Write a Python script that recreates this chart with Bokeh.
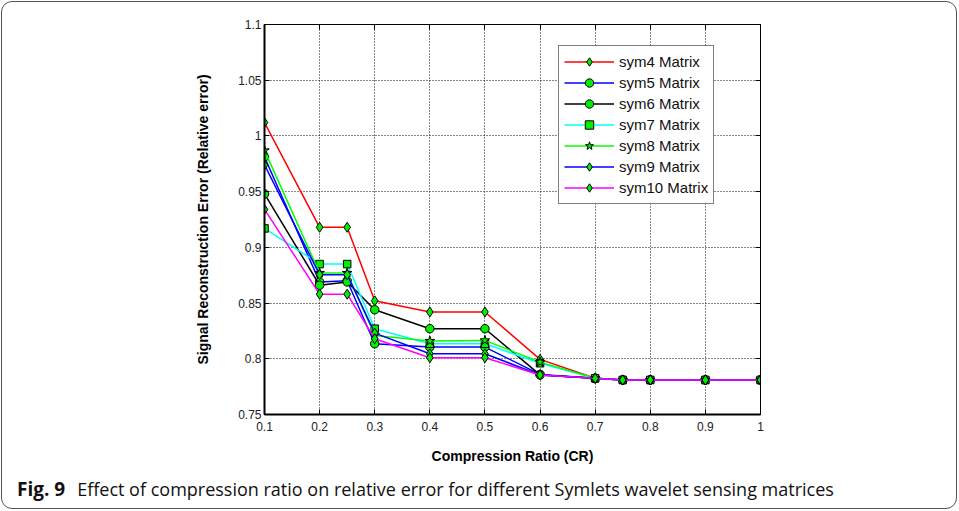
from bokeh.plotting import figure
from bokeh.models import (Range1d, FixedTicker, CustomJSTickFormatter, LinearAxis,
                          Legend, LegendItem, Div)
from bokeh.layouts import column
from bokeh.embed import file_html
from bokeh.resources import INLINE

cr = [0.1, 0.2, 0.25, 0.3, 0.4, 0.5, 0.6, 0.7, 0.75, 0.8, 0.9, 1.0]
sym4 = [1.012, 0.918, 0.918, 0.852, 0.842, 0.842, 0.7995, 0.7825, 0.781, 0.781, 0.781, 0.781]
sym5 = [0.981, 0.869, 0.870, 0.8135, 0.8105, 0.8105, 0.786, 0.7825, 0.781, 0.781, 0.781, 0.781]
sym6 = [0.948, 0.866, 0.869, 0.844, 0.827, 0.827, 0.7855, 0.7825, 0.781, 0.781, 0.781, 0.781]
sym7 = [0.917, 0.885, 0.885, 0.827, 0.8135, 0.8135, 0.796, 0.7825, 0.781, 0.781, 0.781, 0.781]
sym8 = [0.987, 0.877, 0.877, 0.821, 0.816, 0.8165, 0.797, 0.7825, 0.781, 0.781, 0.781, 0.781]
sym9 = [0.974, 0.8755, 0.8755, 0.823, 0.8045, 0.8045, 0.7855, 0.7825, 0.781, 0.781, 0.781, 0.781]
sym10 = [0.934, 0.858, 0.858, 0.818, 0.801, 0.801, 0.7855, 0.7825, 0.781, 0.781, 0.781, 0.781]

series_names = ["sym4 Matrix", "sym5 Matrix", "sym6 Matrix", "sym7 Matrix",
                "sym8 Matrix", "sym9 Matrix", "sym10 Matrix"]
series_values = [sym4, sym5, sym6, sym7, sym8, sym9, sym10]
line_colors = ["#ff0000", "#0000ff", "#000000", "#00ffff", "#00ff00", "#0000ff", "#ff00ff"]
markers = ["diamond", "circle", "circle", "square", "star", "diamond", "diamond"]
marker_sizes = [10, 8.5, 8.5, 7.5, 10, 10, 10]

x_ticks = [0.1, 0.2, 0.3, 0.4, 0.5, 0.6, 0.7, 0.8, 0.9, 1.0]
y_ticks = [0.75, 0.8, 0.85, 0.9, 0.95, 1.0, 1.05, 1.1]

caption_bold = "Fig. 9"
caption_text = "Effect of compression ratio on relative error for different Symlets wavelet sensing matrices"

FONT = "Liberation Sans"

p = figure(width=958, height=472, output_backend="svg", toolbar_location=None,
           x_range=Range1d(0.1, 1.0), y_range=Range1d(0.75, 1.1),
           min_border_left=264, min_border_right=198, min_border_top=24,
           min_border_bottom=58)

fmt = CustomJSTickFormatter(code="return String(+tick.toFixed(2));")
blank = CustomJSTickFormatter(code="return '';")

p.xaxis.ticker = FixedTicker(ticks=x_ticks)
p.yaxis.ticker = FixedTicker(ticks=y_ticks)
p.xaxis.formatter = fmt
p.yaxis.formatter = fmt
for ax in (p.xaxis[0], p.yaxis[0]):
    ax.major_tick_in = 5
    ax.major_tick_out = 0
    ax.minor_tick_in = 0
    ax.minor_tick_out = 0
    ax.axis_line_width = 2
    ax.axis_line_color = "black"
    ax.major_tick_line_color = "black"
    ax.major_label_text_font = FONT
    ax.major_label_text_font_size = "12px"
    ax.major_label_text_color = "#222222"
    ax.axis_label_text_font = FONT
    ax.axis_label_text_font_size = "14px"
    ax.axis_label_text_font_style = "bold"
    ax.axis_label_text_color = "black"
p.xaxis.major_label_standoff = 7
p.yaxis.major_label_standoff = 3
p.xaxis.axis_label = "Compression Ratio (CR)"
p.yaxis.axis_label = "Signal Reconstruction Error (Relative error)"
p.xaxis.axis_label_standoff = 14
p.yaxis.axis_label_standoff = 24

for loc, tk in (("right", y_ticks), ("above", x_ticks)):
    ax = LinearAxis(ticker=FixedTicker(ticks=tk), formatter=blank,
                    major_tick_in=5, major_tick_out=0, minor_tick_in=0, minor_tick_out=0,
                    axis_line_color="black", axis_line_width=1,
                    major_tick_line_color="black", major_label_standoff=0)
    p.add_layout(ax, loc)

p.xgrid.ticker = FixedTicker(ticks=x_ticks)
p.ygrid.ticker = FixedTicker(ticks=y_ticks)
for g in (p.xgrid[0], p.ygrid[0]):
    g.grid_line_color = "#111111"
    g.grid_line_dash = "1 2"
    g.grid_line_width = 1
    g.grid_line_alpha = 1.0

p.outline_line_color = "black"
p.outline_line_width = 1
p.background_fill_color = "white"
p.border_fill_color = None

items = []
for name, vals, col, mk, ms in zip(series_names, series_values, line_colors, markers, marker_sizes):
    r1 = p.line(cr, vals, line_color=col, line_width=1.5)
    r2 = p.scatter(cr, vals, marker=mk, size=ms, fill_color="#00ee00",
                   line_color="black", line_width=1)
    items.append(LegendItem(label=name, renderers=[r1, r2]))

legend = Legend(items=items, location=(294, 210), padding=5, spacing=0,
                glyph_width=50, glyph_height=21, label_height=21, label_standoff=5,
                label_text_font=FONT, label_text_font_size="15px",
                label_text_color="#111111",
                border_line_color="black", border_line_width=1,
                background_fill_color="white", background_fill_alpha=1.0,
                margin=0)
p.add_layout(legend, "center")

caption = Div(
    text=('<span style="font-weight:bold;font-size:19px">' + caption_bold + '</span>'
          '<span style="display:inline-block;width:12px"></span>' + caption_text),
    width=958, height=38, margin=(0, 0, 0, 0),
    styles={"font-family": "'Open Sans', sans-serif", "font-size": "18px",
            "color": "#111111", "padding-left": "17px", "padding-top": "4px",
            "white-space": "nowrap", "box-sizing": "border-box"})

layout = column(p, caption, spacing=0,
                styles={"outline": "1px solid #555555", "outline-offset": "-2px",
                        "border-radius": "12px", "background": "white"})

open("out.html", "w").write(file_html(layout, INLINE))
